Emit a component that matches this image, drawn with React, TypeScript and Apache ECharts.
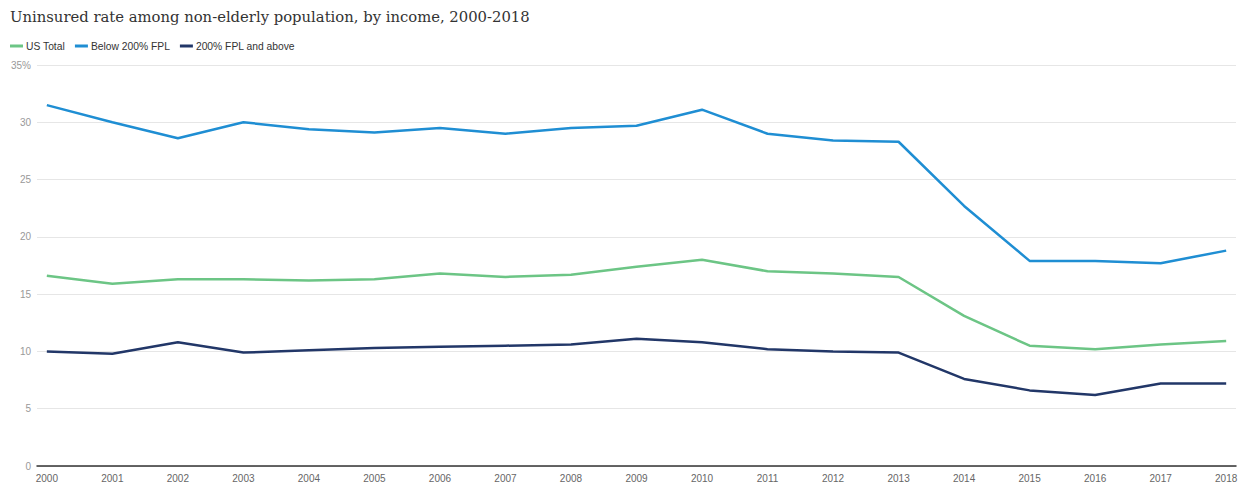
import React, { useEffect, useRef } from "react";
import * as echarts from "echarts";

const years = [2000, 2001, 2002, 2003, 2004, 2005, 2006, 2007, 2008, 2009, 2010, 2011, 2012, 2013, 2014, 2015, 2016, 2017, 2018];
const usTotal = [16.6, 15.9, 16.3, 16.3, 16.2, 16.3, 16.8, 16.5, 16.7, 17.4, 18.0, 17.0, 16.8, 16.5, 13.1, 10.5, 10.2, 10.6, 10.9];
const below200 = [31.5, 30.0, 28.6, 30.0, 29.4, 29.1, 29.5, 29.0, 29.5, 29.7, 31.1, 29.0, 28.4, 28.3, 22.7, 17.9, 17.9, 17.7, 18.8];
const above200 = [10.0, 9.8, 10.8, 9.9, 10.1, 10.3, 10.4, 10.5, 10.6, 11.1, 10.8, 10.2, 10.0, 9.9, 7.6, 6.6, 6.2, 7.2, 7.2];
const seriesNames = ["US Total", "Below 200% FPL", "200% FPL and above"];
const colors = ["#6cc585", "#1f8ed3", "#223768"];
const yTicks = [0, 5, 10, 15, 20, 25, 30, 35];

export default function App() {
  const ref = useRef<HTMLDivElement>(null);
  useEffect(() => {
    if (!ref.current) return;
    const chart = echarts.init(ref.current, null, { renderer: "svg" });
    const mk = (vals: number[]) => years.map((y, i) => [y, vals[i]]);
    chart.setOption({
      animation: false,
      color: colors,
      title: {
        text: "Uninsured rate among non-elderly population, by income, 2000-2018",
        left: 10,
        top: 9,
        padding: 0,
        textStyle: { fontFamily: "DejaVu Serif", fontWeight: "normal", fontSize: 14.8, color: "#333" },
      },
      legend: {
        left: 5,
        top: 36,
        icon: "rect",
        itemWidth: 13,
        itemHeight: 3,
        itemGap: 10,
        textStyle: { fontFamily: "Liberation Sans", fontSize: 10.3, color: "#333", padding: [0, 0, 0, -2] },
        data: seriesNames,
      },
      grid: { left: 37, right: 8, top: 65, bottom: 19, containLabel: false },
      xAxis: {
        type: "value",
        min: 1999.85,
        max: 2018.15,
        splitLine: { show: false },
        axisTick: { show: false },
        axisLine: { show: true, lineStyle: { color: "#333", width: 1.5 } },
        axisLabel: {
          customValues: years,
          formatter: (v: number) => String(Math.round(v)),
          color: "#666",
          fontFamily: "Liberation Sans",
          fontSize: 10,
          margin: 7,
        },
      },
      yAxis: {
        type: "value",
        min: 0,
        max: 35,
        interval: 5,
        axisLine: { show: false },
        axisTick: { show: false },
        splitLine: { lineStyle: { color: "#e6e6e6", width: 1 } },
        axisLabel: {
          customValues: yTicks,
          formatter: (v: number) => (v === 35 ? "35%" : String(v)),
          color: "#999",
          fontFamily: "Liberation Sans",
          fontSize: 10,
          margin: 6,
        },
      },
      series: [
        { name: seriesNames[0], type: "line", data: mk(usTotal), symbol: "none", lineStyle: { width: 2.5 } },
        { name: seriesNames[1], type: "line", data: mk(below200), symbol: "none", lineStyle: { width: 2.5 } },
        { name: seriesNames[2], type: "line", data: mk(above200), symbol: "none", lineStyle: { width: 2.5 } },
      ],
    });
    return () => chart.dispose();
  }, []);
  return <div ref={ref} style={{ position: "absolute", left: 0, top: 0, width: 1244, height: 485, background: "#fff" }} />;
}
